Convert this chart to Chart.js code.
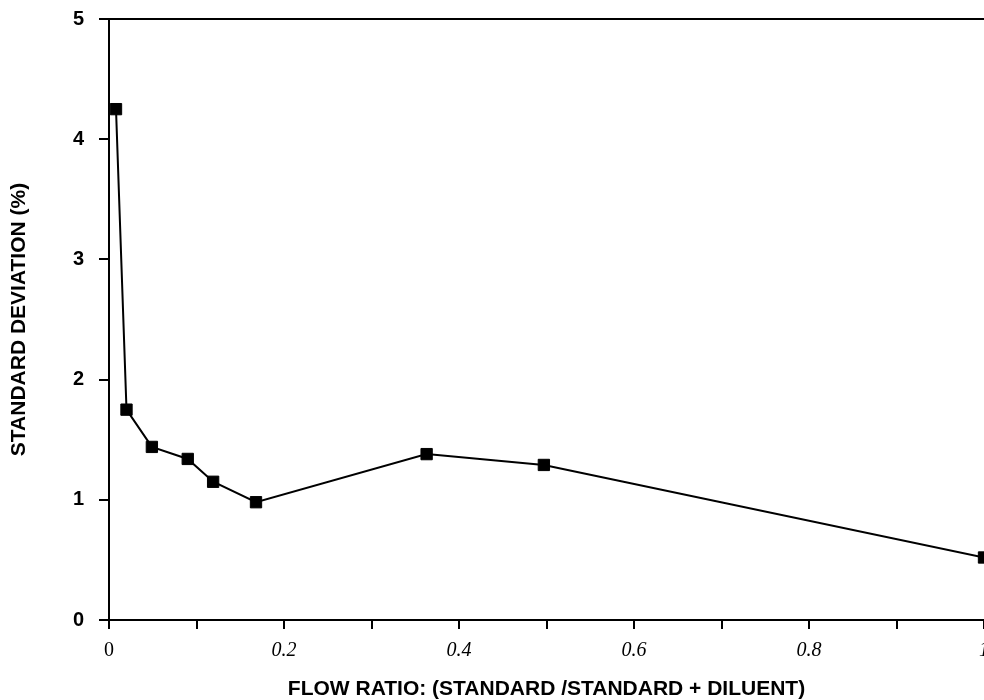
<!DOCTYPE html>
<html lang="en">

<head>
  <meta charset="UTF-8">
  <script src="https://cdn.jsdelivr.net/npm/chart.js@4.4.1/dist/chart.umd.min.js"></script>
  <title>Standard deviation vs flow ratio</title>
  <style>
    body { margin: 0; background: #fff; }
  </style>
</head>

<body>
  <canvas id="myChart" width="984" height="700"></canvas>
  <script>
    // values
    const flowRatio = [0.008, 0.02, 0.049, 0.09, 0.119, 0.168, 0.363, 0.497, 1.0];
    const stdDev = [4.25, 1.75, 1.44, 1.34, 1.15, 0.98, 1.38, 1.29, 0.52];
    const xLabels = ['0', '0.2', '0.4', '0.6', '0.8', '1'];
    const yLabels = ['0', '1', '2', '3', '4', '5'];

    const points = flowRatio.map((x, i) => ({ x: x, y: stdDev[i] }));
    const sans = "'Liberation Sans', Arial, sans-serif";
    const serif = "'Liberation Serif', 'Times New Roman', serif";

    new Chart('myChart', {
      type: 'scatter',
      data: {
        datasets: [{
          data: points,
          showLine: true,
          borderColor: '#000',
          borderWidth: 2,
          pointStyle: 'rect',
          pointRadius: 8,
          pointBackgroundColor: '#000',
          pointBorderColor: '#000',
          pointBorderWidth: 1,
          clip: false
        }]
      },
      options: {
        responsive: false,
        animation: false,
        layout: { autoPadding: false, padding: { top: 19, right: 0, left: 0, bottom: 0 } },
        plugins: { legend: { display: false }, tooltip: { enabled: false } },
        scales: {
          x: {
            type: 'linear',
            min: 0,
            max: 1,
            grid: { drawOnChartArea: false, drawTicks: true, tickLength: 9, color: '#000', lineWidth: 2 },
            border: { color: '#000', width: 2 },
            ticks: {
              stepSize: 0.1,
              color: '#000',
              padding: 10,
              maxRotation: 0,
              autoSkip: false,
              font: ctx => ({ family: serif, size: 20, style: ctx.tick && ctx.tick.value === 0 ? 'normal' : 'italic' }),
              callback: (v) => {
                const i = Math.round(v * 10);
                return i % 2 === 0 ? xLabels[i / 2] : '';
              }
            },
            title: {
              display: true,
              text: 'FLOW RATIO: (STANDARD /STANDARD + DILUENT)',
              color: '#000',
              font: { family: sans, size: 21, weight: 'bold', lineHeight: 1 },
              padding: 0
            },
            afterFit: (s) => { s.height = 80; s.paddingLeft = 0; s.paddingRight = 0; }
          },
          xTop: {
            type: 'linear',
            position: 'top',
            min: 0,
            max: 1,
            grid: { display: false },
            border: { color: '#000', width: 2 },
            ticks: { display: false },
            afterFit: (s) => { s.height = 0; s.paddingLeft = 0; s.paddingRight = 0; }
          },
          y: {
            min: 0,
            max: 5,
            grid: { drawOnChartArea: false, drawTicks: true, tickLength: 10, color: '#000', lineWidth: 2 },
            border: { color: '#000', width: 2 },
            ticks: {
              stepSize: 1,
              color: '#000',
              padding: 15,
              font: { family: sans, size: 20, weight: 'bold' },
              callback: (v) => yLabels[Math.round(v)]
            },
            title: {
              display: true,
              text: 'STANDARD DEVIATION (%)',
              color: '#000',
              font: { family: sans, size: 21, weight: 'bold' },
              padding: 7
            },
            afterFit: (s) => { s.width = 109; s.paddingTop = 0; s.paddingBottom = 0; }
          }
        }
      }
    });
  </script>
</body>

</html>
